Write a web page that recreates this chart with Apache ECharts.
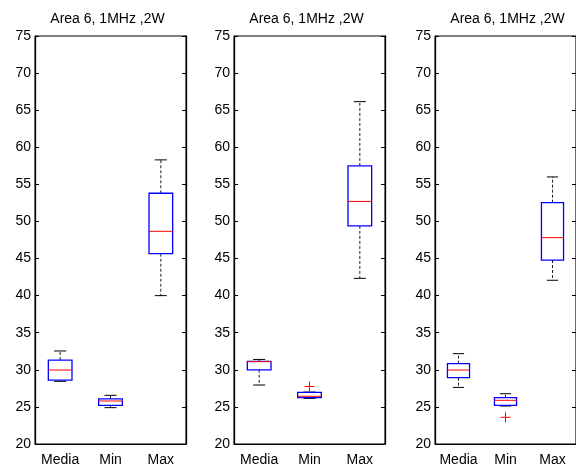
<!DOCTYPE html>
<html>
<head>
<meta charset="utf-8">
<script src="https://cdn.jsdelivr.net/npm/echarts@6/dist/echarts.min.js"></script>
<style>
  html, body { margin: 0; padding: 0; background: #fff; }
  #chart { width: 576px; height: 468px; }
</style>
</head>
<body>
<div id="chart"></div>
<script>
// Box plot categories and panel titles
const categories = ['Media', 'Min', 'Max'];
const panelTitle = 'Area 6, 1MHz ,2W';
const yTicks = { min: 20, max: 75, interval: 5 };

// Five-number summaries per category: [lower whisker, Q1, median, Q3, upper whisker]
const panel1Stats = [
  [28.45, 28.6, 29.97, 31.32, 32.54],
  [24.9, 25.2, 25.8, 26.07, 26.56],
  [40.0, 45.65, 48.67, 53.8, 58.3]
];
const panel2Stats = [
  [27.95, 30.0, 31.1, 31.15, 31.4],
  [26.15, 26.24, 26.43, 26.97, 27.0],
  [42.33, 49.4, 52.7, 57.48, 66.15]
];
const panel3Stats = [
  [27.63, 28.94, 29.97, 30.83, 32.18],
  [25.12, 25.2, 25.89, 26.24, 26.78],
  [42.07, 44.8, 47.81, 52.53, 56.0]
];

// Outliers per panel: [category index, value]
const panel1Outliers = [];
const panel2Outliers = [[1, 27.75]];
const panel3Outliers = [[1, 23.6]];

const panels = [
  { stats: panel1Stats, outliers: panel1Outliers, left: 35 },
  { stats: panel2Stats, outliers: panel2Outliers, left: 234 },
  { stats: panel3Stats, outliers: panel3Outliers, left: 435 }
];
const plotWidth = 151;
const plotTop = 36;
const plotHeight = 408;
const font = '"Liberation Sans", Arial, sans-serif';
const fontSize = 14;

function renderBox(params, api) {
  const cat = api.value(0);
  const band = api.size([1, 0])[0];
  const half = band * 0.235;
  const capHalf = band * 0.12;
  const pMin = api.coord([cat, api.value(1)]);
  const pQ1 = api.coord([cat, api.value(2)]);
  const pMed = api.coord([cat, api.value(3)]);
  const pQ3 = api.coord([cat, api.value(4)]);
  const pMax = api.coord([cat, api.value(5)]);
  const x = pMed[0];
  const dash = { stroke: '#222', lineWidth: 1, lineDash: [3, 2] };
  const solid = { stroke: '#000', lineWidth: 1 };
  return {
    type: 'group',
    children: [
      { type: 'line', shape: { x1: x, y1: pQ3[1], x2: x, y2: pMax[1] }, style: dash },
      { type: 'line', shape: { x1: x, y1: pQ1[1], x2: x, y2: pMin[1] }, style: dash },
      { type: 'line', shape: { x1: x - capHalf, y1: pMax[1], x2: x + capHalf, y2: pMax[1] }, style: solid },
      { type: 'line', shape: { x1: x - capHalf, y1: pMin[1], x2: x + capHalf, y2: pMin[1] }, style: solid },
      {
        type: 'rect',
        shape: { x: x - half, y: pQ3[1], width: half * 2, height: pQ1[1] - pQ3[1] },
        style: { fill: 'none', stroke: '#0000ff', lineWidth: 1.3 }
      },
      { type: 'line', shape: { x1: x - half, y1: pMed[1], x2: x + half, y2: pMed[1] }, style: { stroke: '#ff0000', lineWidth: 1 } }
    ]
  };
}

function renderPlus(params, api) {
  const p = api.coord([api.value(0), api.value(1)]);
  const s = 5;
  const st = { stroke: '#ff0000', lineWidth: 1 };
  return {
    type: 'group',
    children: [
      { type: 'line', shape: { x1: p[0] - s, y1: p[1], x2: p[0] + s, y2: p[1] }, style: st },
      { type: 'line', shape: { x1: p[0], y1: p[1] - s, x2: p[0], y2: p[1] + s }, style: st }
    ]
  };
}

const grid = [], xAxis = [], yAxis = [], series = [], graphic = [];
panels.forEach((panel, i) => {
  grid.push({
    left: panel.left, top: plotTop, width: plotWidth, height: plotHeight,
    show: true, borderColor: '#000', borderWidth: 1, backgroundColor: '#fff'
  });
  xAxis.push({
    type: 'category', gridIndex: i, data: categories, boundaryGap: true,
    axisLine: { show: true, lineStyle: { color: '#000', width: 1 } },
    axisTick: { show: false },
    axisLabel: { color: '#000', fontFamily: font, fontSize: fontSize, margin: 9, interval: 0 },
    splitLine: { show: false }
  });
  const yBase = {
    type: 'value', gridIndex: i, min: yTicks.min, max: yTicks.max, interval: yTicks.interval,
    axisLine: { show: true, lineStyle: { color: '#000', width: 1.3 } },
    axisTick: { show: true, inside: true, length: 4, lineStyle: { color: '#000' } },
    splitLine: { show: false }
  };
  yAxis.push(Object.assign({}, yBase, {
    position: 'left',
    axisLabel: { color: '#000', fontFamily: font, fontSize: fontSize, margin: 4 }
  }));
  yAxis.push(Object.assign({}, yBase, {
    position: 'right',
    axisLabel: { show: false }
  }));
  series.push({
    type: 'custom', xAxisIndex: i, yAxisIndex: i * 2,
    renderItem: renderBox,
    encode: { x: 0, y: [1, 2, 3, 4, 5] },
    data: panel.stats.map((s, c) => [c].concat(s)),
    silent: true
  });
  series.push({
    type: 'custom', xAxisIndex: i, yAxisIndex: i * 2,
    renderItem: renderPlus,
    encode: { x: 0, y: 1 },
    data: panel.outliers,
    silent: true
  });
  graphic.push({
    type: 'text', x: panel.left + plotWidth / 2 - 3, y: 19,
    style: {
      text: panelTitle, fill: '#000', font: fontSize + 'px ' + font,
      textAlign: 'center', textVerticalAlign: 'middle'
    }
  });
});

const chart = echarts.init(document.getElementById('chart'), null, { renderer: 'canvas' });
chart.setOption({
  animation: false,
  backgroundColor: '#fff',
  grid: grid,
  xAxis: xAxis,
  yAxis: yAxis,
  series: series,
  graphic: graphic
});
</script>
</body>
</html>
